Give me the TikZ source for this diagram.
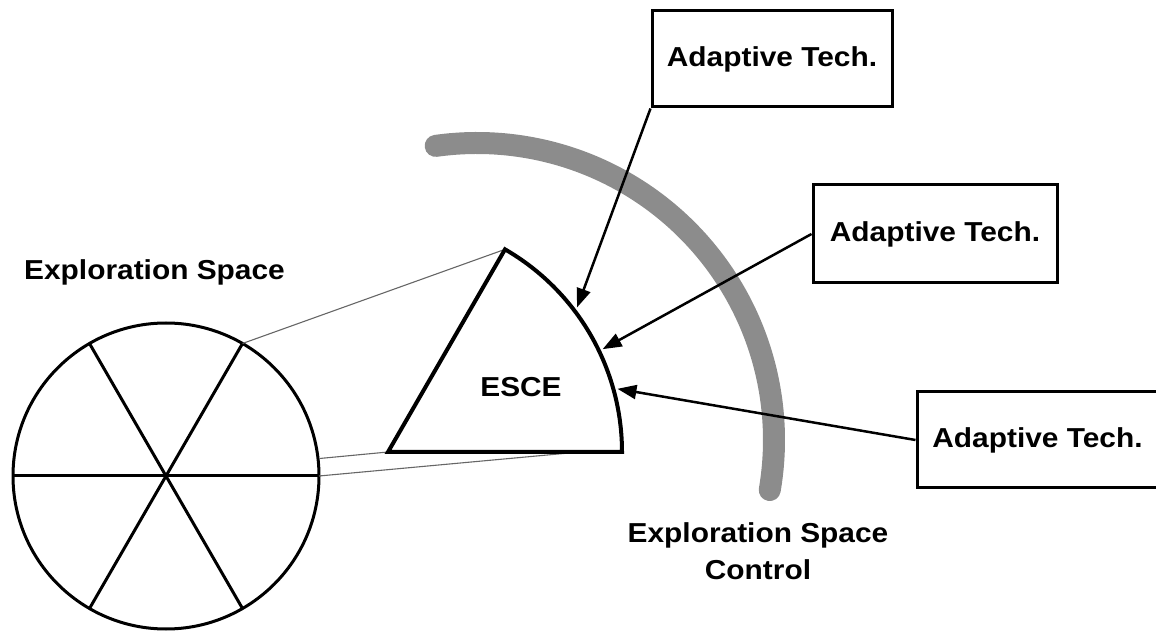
\documentclass[tikz,border=0pt]{standalone}
\usepackage{fontspec}
\setmainfont{Liberation Sans}[FakeStretch=1.09]
\usetikzlibrary{arrows.meta,calc}

\begin{document}
\begin{tikzpicture}[x=1pt,y=1pt,
  every node/.style={font=\fontsize{27.4}{37}\selectfont\bfseries},
  techbox/.style={draw, line width=3pt, minimum width=240pt, minimum height=96pt, inner sep=0pt},
  outline/.style={line width=3pt},
  guide/.style={line width=1.1pt, draw=black!60},
  pointer/.style={line width=2.5pt, -{Triangle[length=19pt,width=14pt]}},
  band/.style={line width=22pt, line cap=round, draw=black!45}]
\useasboundingbox (0,0) rectangle (1156,632);

% control band
\coordinate (bc) at (477,192);
\draw[band] ($(bc)+(98:297)$) arc[start angle=98, end angle=-9.7, radius=297];

% exploration space: circle split into six parts
\coordinate (c) at (166,156);
\draw[outline] (c) circle[radius=153];
\foreach \a in {0,60,120}
  \draw[outline] ($(c)+(\a:153)$) -- ($(c)+(\a+180:153)$);
\coordinate (s0) at ($(c)+(0:153)$);
\coordinate (s6) at ($(c)+(6.5:155)$);
\coordinate (s60) at ($(c)+(60:153)$);

% the enlarged sector
\coordinate (o) at (388,180);
\coordinate (r) at ($(o)+(0:234)$);
\coordinate (apex) at ($(o)+(60:234)$);
\coordinate (base) at (580,180);

\draw[guide] (s60) -- (apex);
\draw[guide] (s6) -- (o);
\draw[guide] (s0) -- (base);

\draw[line width=4pt, line join=miter] (o) -- (r) arc[start angle=0, end angle=60, radius=234] -- cycle;
\node[anchor=base] (esce) at (521,235) {ESCE};

% targets on the sector's arc
\coordinate (t1) at ($(o)+(37.4:238)$);
\coordinate (t2) at ($(o)+(25.6:238)$);
\coordinate (t3) at ($(o)+(15.4:238)$);

% adaptive technique boxes
\node[techbox] (b1) at (772,573) {Adaptive Tech.};
\node[techbox, minimum width=244pt, minimum height=98pt] (b2) at (935,398) {Adaptive Tech.};
\node[techbox, minimum width=241pt] (b3) at (1037.5,192) {Adaptive Tech.};

\draw[pointer] (b1.south west) -- (t1);
\draw[pointer] (b2.west) -- (t2);
\draw[pointer] (b3.west) -- (t3);

% labels
\node[anchor=base] (es) at (154.5,352) {Exploration Space};
\node[align=center, inner sep=0pt] (esc) at (758,81) {Exploration Space\\Control};
\end{tikzpicture}
\end{document}
